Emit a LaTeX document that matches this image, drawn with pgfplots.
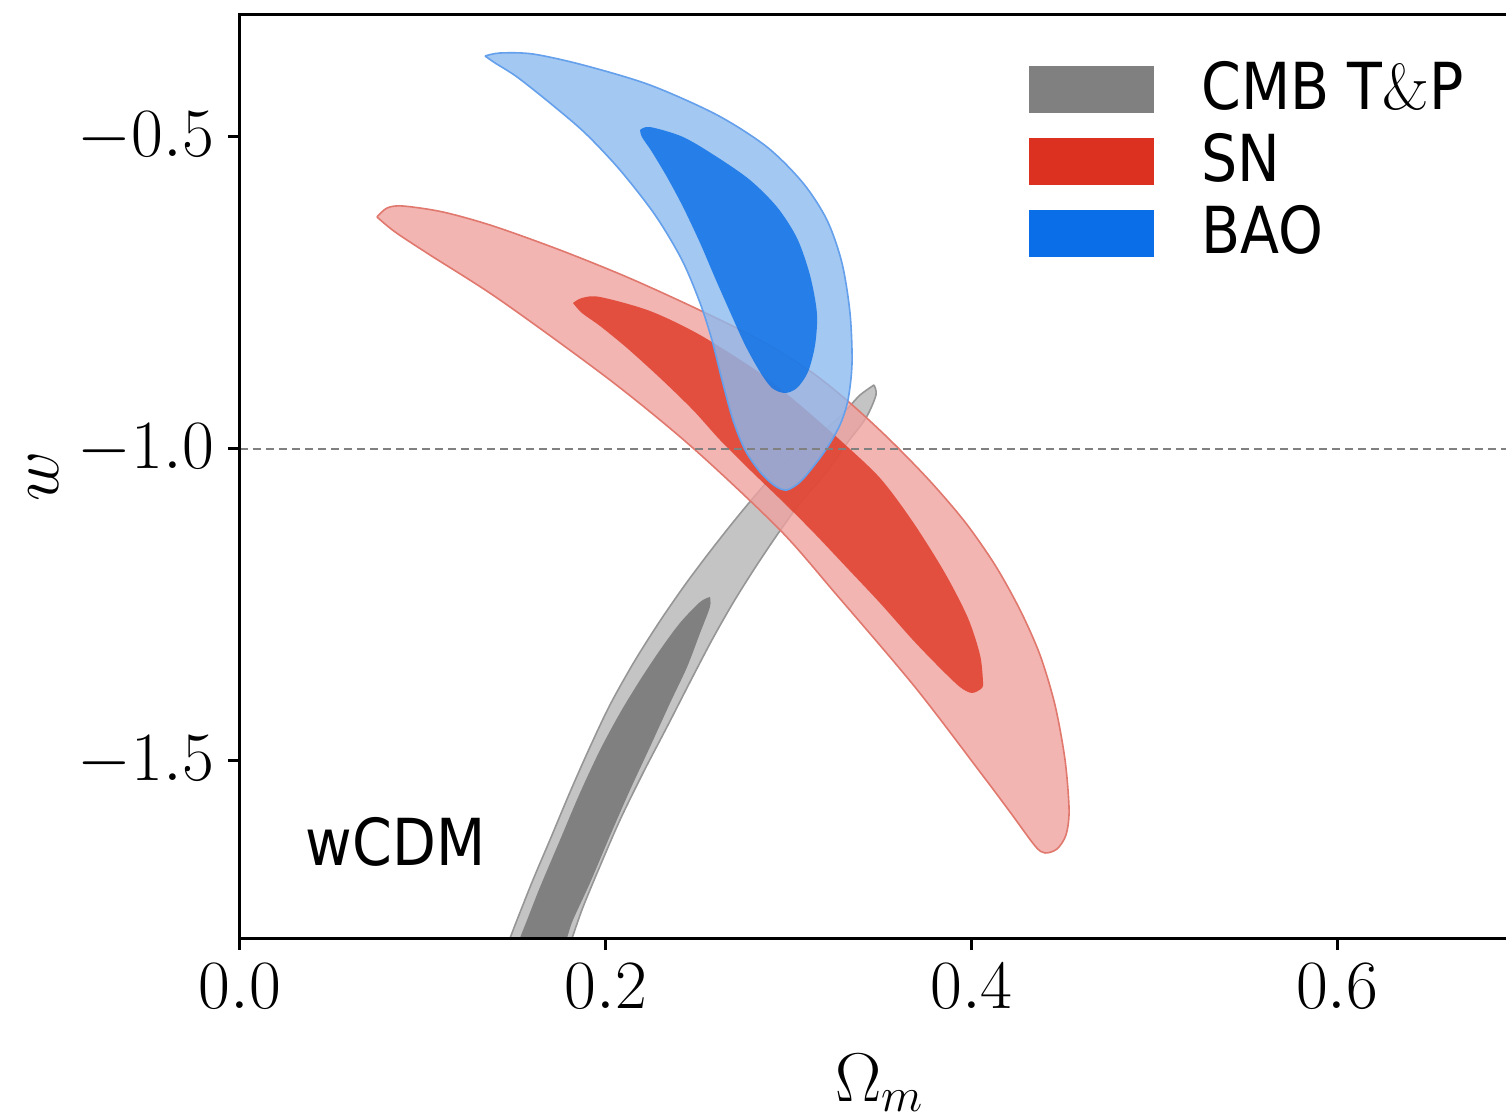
\documentclass[border=0pt]{standalone}
\usepackage{pgfplots}
\pgfplotsset{compat=1.18}
\usepackage{fontspec}
\newfontfamily\lgfont[FakeStretch=0.88]{DejaVu Sans}
\definecolor{grayout}{RGB}{196,196,196}
\definecolor{grayedge}{RGB}{150,150,150}
\definecolor{grayin}{RGB}{128,128,128}
\definecolor{redout}{RGB}{239,162,159}
\definecolor{redin}{RGB}{223,55,34}
\definecolor{rededge}{RGB}{225,120,110}
\definecolor{blueout}{RGB}{140,186,239}
\definecolor{bluein}{RGB}{7,110,230}
\definecolor{blueedge}{RGB}{100,160,235}
\definecolor{leggray}{RGB}{128,128,128}
\definecolor{legred}{RGB}{220,48,32}
\definecolor{legblue}{RGB}{10,110,232}
\begin{document}
\begin{tikzpicture}
\begin{axis}[
  scale only axis,
  width=320pt, height=231pt,
  xmin=0, xmax=0.7, ymin=-1.7837, ymax=-0.3029,
  axis on top,
  axis line style={line width=0.75pt},
  major tick style={line width=0.75pt, black},
  major tick length=3pt,
  tick align=outside,
  tick pos=left,
  xtick={0,0.2,0.4,0.6},
  ytick={-1.5,-1,-0.5},
  minor tick num=0,
  xticklabel style={/pgf/number format/.cd, fixed, fixed zerofill, precision=1},
  yticklabel style={/pgf/number format/.cd, fixed, fixed zerofill, precision=1},
  tick label style={font=\fontsize{16.4}{19}\selectfont},
  label style={font=\fontsize{17.25}{20}\selectfont},
  xlabel={$\Omega_m$},
  xlabel style={yshift=-4.5pt},
  ylabel={$w$},
  ylabel style={yshift=-2pt},
  legend style={draw=none, fill=none, at={(axis cs:0.4315,-0.3766)}, anchor=north west,
    inner sep=0pt, outer sep=0pt, row sep=0pt,
    font=\lgfont\fontsize{16.2}{18}\selectfont,
    nodes={inner sep=0pt, text height=12.5pt, text depth=5.5pt},
    /tikz/every odd column/.append style={column sep=12pt}},
  legend cell align=left,
]
% CMB T&P 2 sigma
\addplot[forget plot, smooth, fill=grayout, draw=grayedge, line width=0.4pt] coordinates {
(0.3467,-0.8974) (0.3391,-0.9135) (0.3325,-0.9343) (0.3243,-0.9583) (0.3063,-1.0016) (0.2898,-1.0481) (0.2751,-1.0978) (0.2598,-1.1538) (0.2445,-1.2131) (0.2297,-1.2756) (0.2155,-1.3413) (0.2023,-1.4103) (0.1914,-1.4776) (0.1805,-1.5497) (0.1695,-1.6266) (0.1602,-1.6907) (0.1515,-1.7548) (0.1477,-1.7837) (0.1389,-1.8510) (0.1733,-1.8510) (0.1816,-1.7837) (0.1876,-1.7340) (0.1969,-1.6683) (0.2078,-1.5946) (0.2204,-1.5192) (0.2335,-1.4455) (0.2461,-1.3734) (0.2581,-1.3061) (0.2696,-1.2468) (0.2816,-1.1907) (0.2937,-1.1378) (0.3063,-1.0865) (0.3199,-1.0401) (0.3320,-0.9904) (0.3423,-0.9503) (0.3478,-0.9135) (0.3467,-0.8974)
};
% CMB T&P 1 sigma
\addplot[forget plot, smooth, fill=grayin, draw=none] coordinates {
(0.2570,-1.2372) (0.2516,-1.2452) (0.2406,-1.2788) (0.2297,-1.3221) (0.2188,-1.3702) (0.2078,-1.4231) (0.1969,-1.4824) (0.1859,-1.5513) (0.1750,-1.6266) (0.1641,-1.7019) (0.1570,-1.7548) (0.1531,-1.7837) (0.1444,-1.8510) (0.1712,-1.8510) (0.1788,-1.7837) (0.1821,-1.7548) (0.1914,-1.6955) (0.2023,-1.6202) (0.2133,-1.5465) (0.2242,-1.4776) (0.2352,-1.4071) (0.2445,-1.3494) (0.2516,-1.2949) (0.2570,-1.2532) (0.2570,-1.2372)
};
% SN 2 sigma
\addplot[forget plot, smooth, fill=redout, fill opacity=0.8, draw=rededge, line width=0.4pt] coordinates {
(0.0749,-0.6282) (0.0804,-0.6138) (0.0891,-0.6106) (0.1110,-0.6202) (0.1384,-0.6426) (0.1750,-0.6811) (0.2116,-0.7244) (0.2477,-0.7724) (0.2844,-0.8253) (0.3117,-0.8750) (0.3336,-0.9263) (0.3555,-0.9856) (0.3773,-1.0513) (0.3965,-1.1170) (0.4129,-1.1859) (0.4266,-1.2580) (0.4375,-1.3301) (0.4457,-1.4103) (0.4512,-1.4984) (0.4534,-1.5785) (0.4517,-1.6186) (0.4468,-1.6410) (0.4402,-1.6474) (0.4348,-1.6362) (0.4211,-1.5817) (0.4047,-1.5176) (0.3691,-1.3814) (0.3259,-1.2324) (0.2953,-1.1298) (0.2477,-0.9984) (0.2023,-0.8894) (0.1422,-0.7612) (0.1039,-0.6891) (0.0848,-0.6522) (0.0749,-0.6282)
};
% SN 1 sigma
\addplot[forget plot, smooth, fill=redin, fill opacity=0.8, draw=none] coordinates {
(0.1821,-0.7660) (0.1870,-0.7580) (0.1969,-0.7564) (0.2242,-0.7788) (0.2516,-0.8173) (0.2844,-0.8782) (0.3063,-0.9295) (0.3281,-0.9856) (0.3500,-1.0465) (0.3680,-1.1170) (0.3855,-1.1987) (0.3981,-1.2708) (0.4047,-1.3301) (0.4063,-1.3718) (0.4058,-1.3830) (0.4003,-1.3910) (0.3937,-1.3814) (0.3828,-1.3510) (0.3680,-1.3061) (0.3500,-1.2468) (0.3320,-1.1907) (0.3134,-1.1330) (0.2970,-1.0849) (0.2789,-1.0337) (0.2625,-0.9856) (0.2477,-0.9375) (0.2297,-0.8862) (0.2116,-0.8381) (0.1969,-0.8029) (0.1870,-0.7821) (0.1821,-0.7660)
};
% BAO 2 sigma
\addplot[forget plot, smooth, fill=blueout, fill opacity=0.8, draw=blueedge, line width=0.4pt] coordinates {
(0.1340,-0.3702) (0.1422,-0.3654) (0.1602,-0.3670) (0.1876,-0.3846) (0.2242,-0.4167) (0.2609,-0.4647) (0.2882,-0.5160) (0.3079,-0.5737) (0.3210,-0.6330) (0.3292,-0.7019) (0.3336,-0.7821) (0.3347,-0.8622) (0.3325,-0.9215) (0.3281,-0.9615) (0.3210,-0.9984) (0.3134,-1.0288) (0.3063,-1.0529) (0.2991,-1.0657) (0.2926,-1.0593) (0.2844,-1.0369) (0.2762,-1.0016) (0.2696,-0.9535) (0.2636,-0.8894) (0.2581,-0.8253) (0.2516,-0.7660) (0.2417,-0.6971) (0.2270,-0.6250) (0.2078,-0.5529) (0.1887,-0.4936) (0.1695,-0.4455) (0.1515,-0.4038) (0.1395,-0.3814) (0.1340,-0.3702)
};
% BAO 1 sigma
\addplot[forget plot, smooth, fill=bluein, fill opacity=0.8, draw=none] coordinates {
(0.2188,-0.4888) (0.2242,-0.4840) (0.2423,-0.5000) (0.2609,-0.5321) (0.2789,-0.5689) (0.2937,-0.6122) (0.3046,-0.6619) (0.3117,-0.7212) (0.3155,-0.7821) (0.3145,-0.8333) (0.3106,-0.8766) (0.3046,-0.9022) (0.2980,-0.9103) (0.2909,-0.9022) (0.2844,-0.8766) (0.2762,-0.8333) (0.2680,-0.7804) (0.2598,-0.7260) (0.2516,-0.6699) (0.2423,-0.6122) (0.2335,-0.5641) (0.2253,-0.5240) (0.2198,-0.5000) (0.2188,-0.4888)
};
% w = -1
\addplot[forget plot, draw={rgb,255:red,128;green,128;blue,128}, line width=0.4pt, dash pattern=on 2pt off 1.25pt] coordinates {(0,-1) (0.7,-1)};
\addlegendimage{legend image code/.code={\fill[leggray] (0pt,-4pt) rectangle (30.75pt,7.25pt);}}
\addlegendentry{CMB T$\&$P}
\addlegendimage{legend image code/.code={\fill[legred] (0pt,-4pt) rectangle (30.75pt,7.25pt);}}
\addlegendentry{SN}
\addlegendimage{legend image code/.code={\fill[legblue] (0pt,-4pt) rectangle (30.75pt,7.25pt);}}
\addlegendentry{BAO}
\node[anchor=base west, inner sep=0pt, font=\lgfont\fontsize{16.2}{18}\selectfont] at (axis cs:0.0355,-1.6667) {wCDM};
\end{axis}
\pgfresetboundingbox
\useasboundingbox (-60pt,-44.25pt) rectangle (316.5pt,234.5pt);
\end{tikzpicture}
\end{document}
